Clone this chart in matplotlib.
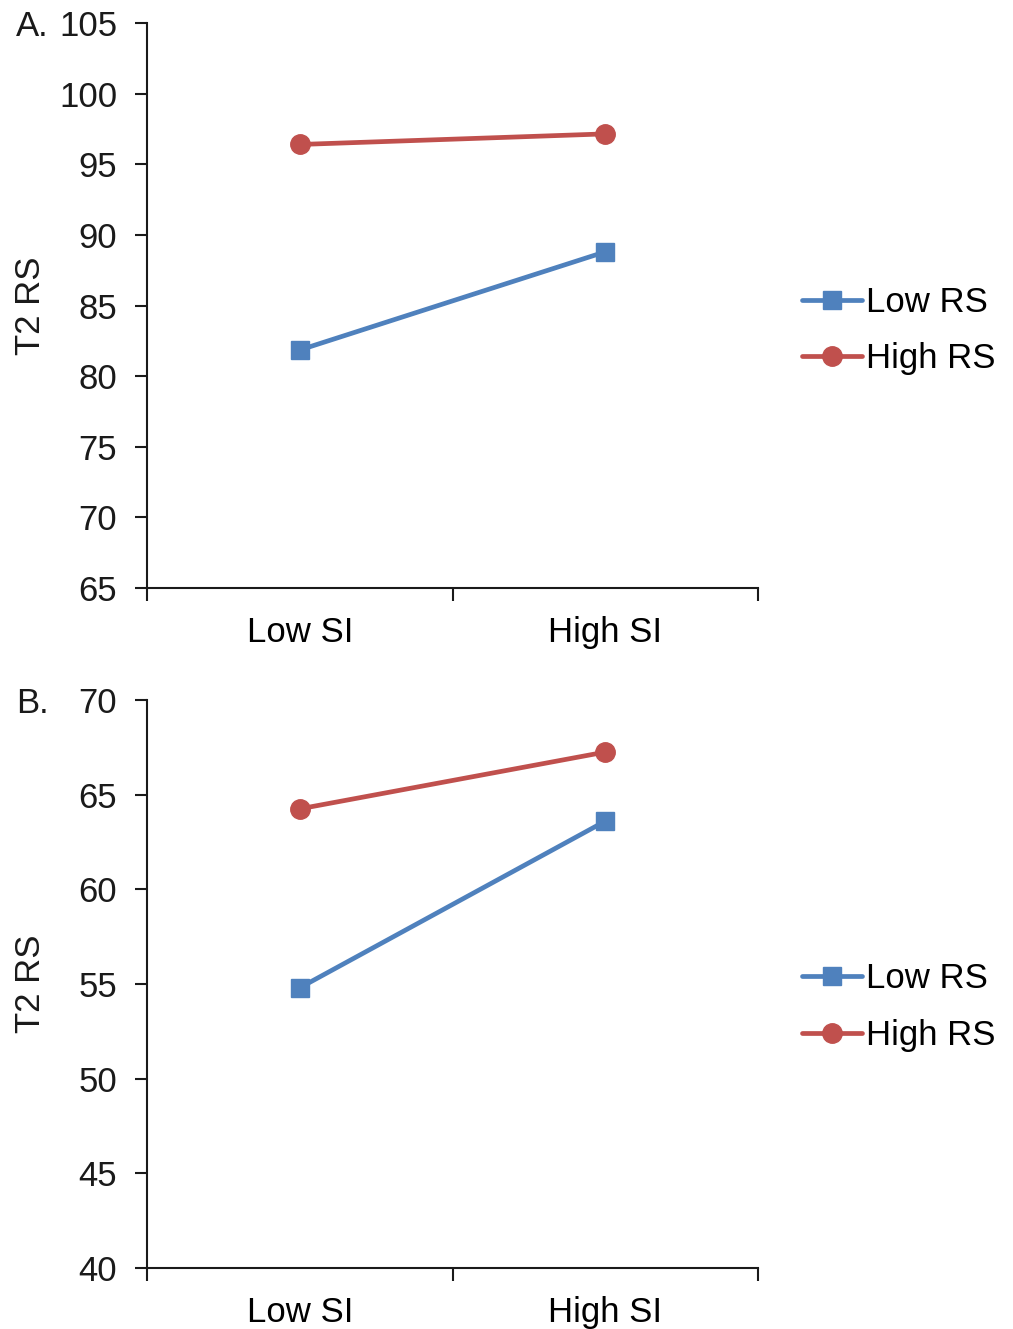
import matplotlib
matplotlib.use("Agg")
import matplotlib.pyplot as plt

plt.rcParams['font.family'] = ['Liberation Sans', 'DejaVu Sans']

categories = ["Low SI", "High SI"]
series_names = ["Low RS", "High RS"]

a_low_rs = [81.85, 88.8]
a_high_rs = [96.4, 97.15]
a_yticks = [65, 70, 75, 80, 85, 90, 95, 100, 105]

b_low_rs = [54.8, 63.6]
b_high_rs = [64.25, 67.25]
b_yticks = [40, 45, 50, 55, 60, 65, 70]

BLUE = "#4F81BD"
RED = "#C0504D"
TXT = "#1a1a1a"
W, H = 1013, 1329
fig = plt.figure(figsize=(W / 100, H / 100), dpi=100)
FS = 25


def make_panel(top, bottom, low, high, yticks, letter, leg_mid):
    ax = fig.add_axes([147 / W, 1 - bottom / H, (758 - 147) / W, (bottom - top) / H])
    x = list(range(len(categories)))
    ax.plot(x, low, color=BLUE, lw=3.4, marker='s', ms=12.5, label=series_names[0],
            solid_capstyle='round')
    ax.plot(x, high, color=RED, lw=3.4, marker='o', ms=14, label=series_names[1],
            solid_capstyle='round')
    ax.set_xlim(-0.5, 1.5)
    ax.set_ylim(yticks[0], yticks[-1])
    ax.set_yticks(yticks)
    ax.set_xticks([-0.5, 0.5, 1.5])
    ax.set_xticklabels([])
    ax.set_xticks(x, minor=True)
    ax.set_xticklabels(categories, minor=True, fontsize=FS)
    ax.tick_params(axis='x', which='minor', length=0, pad=20)
    ax.tick_params(axis='x', which='major', length=9, width=1.5, direction='out')
    ax.tick_params(axis='y', length=9, width=1.5, direction='out', labelsize=FS, pad=12.5)
    for s in ['top', 'right']:
        ax.spines[s].set_visible(False)
    for s in ['left', 'bottom']:
        ax.spines[s].set_linewidth(1.5)
        ax.spines[s].set_color(TXT)
    ax.tick_params(colors=TXT)
    ax.set_facecolor('white')
    fig.text(31 / W, 1 - (top + bottom) / 2 / H, "T2 RS", rotation=90, fontsize=FS,
             ha='center', va='center', color=TXT)
    fig.text(16 / W, 1 - top / H, letter, fontsize=FS, ha='left', va='center_baseline',
             color=TXT)
    ax.legend(loc='center left', bbox_to_anchor=(802 / W, 1 - leg_mid / H),
              bbox_transform=fig.transFigure, frameon=False, fontsize=FS,
              handlelength=1.72, handletextpad=0.12, labelspacing=0.68,
              borderaxespad=0, borderpad=0)
    return ax


make_panel(23, 588, a_low_rs, a_high_rs, a_yticks, "A.", 330.5)
make_panel(700, 1268, b_low_rs, b_high_rs, b_yticks, "B.", 1007)

fig.savefig("out.png", dpi=100, facecolor='white')
